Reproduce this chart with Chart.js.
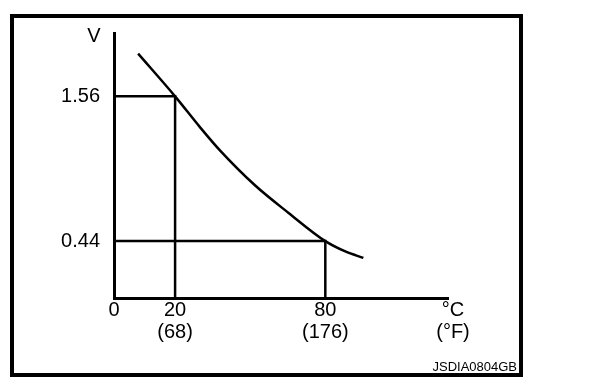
<!DOCTYPE html>
<html>
<head>
<meta charset="utf-8">
<script src="https://cdn.jsdelivr.net/npm/chart.js@4/dist/chart.umd.min.js"></script>
<style>
  html, body { margin: 0; padding: 0; background: #fff; }
  #wrap { position: relative; width: 608px; height: 388px; }
  #frame { position: absolute; left: 10px; top: 14px; width: 513px; height: 363px;
           border: 4px solid #000; box-sizing: border-box; pointer-events: none; }
  canvas { position: absolute; left: 0; top: 0; }
</style>
</head>
<body>
<div id="wrap">
  <canvas id="c" width="608" height="388"></canvas>
  <div id="frame"></div>
</div>
<script>
// ---- data (schematic sensor curve) ----
const curveTemps = [7.9, 20, 30, 38, 52, 65.2, 80, 88, 95.2];             // °C
const curveVolts = [1.89, 1.56, 1.32, 1.14, 0.87, 0.66, 0.44, 0.36, 0.31]; // V
const refTemps = [20, 80];          // °C marked on the x axis
const refVolts = [1.56, 0.44];      // V marked on the y axis
const xTickValues = [0, 20, 80];
const xTickLabelsC = ["0", "20", "80"];
const xTickLabelsF = ["", "(68)", "(176)"];
const yTickValues = [0.44, 1.56];
const yTickLabels = ["0.44", "1.56"];
const yUnit = "V";
const xUnitC = "°C";
const xUnitF = "(°F)";
const figureCode = "JSDIA0804GB";

// Axis range (the drawing is schematic: 0..20 °C is stretched differently)
const X_BREAK = 20;
const X_INTERNAL_MIN = -4.4;
const X_MAX = 129;
const Y_MAX = 2.05;

const FONT = '"Liberation Sans", Arial, Helvetica, sans-serif';

// Schematic x scale: piecewise linear, 0..20 is compressed to fit the axis origin
class SchematicScale extends Chart.LinearScale {
  _warp(v) {
    if (v >= X_BREAK) return v;
    return X_INTERNAL_MIN + v * (X_BREAK - X_INTERNAL_MIN) / X_BREAK;
  }
  _unwarp(w) {
    if (w >= X_BREAK) return w;
    return (w - X_INTERNAL_MIN) * X_BREAK / (X_BREAK - X_INTERNAL_MIN);
  }
  getPixelForValue(v, i) {
    if (v === null || v === undefined) return NaN;
    return super.getPixelForValue(this._warp(v), i);
  }
  getValueForPixel(p) {
    return this._unwarp(super.getValueForPixel(p));
  }
}
SchematicScale.id = 'schematic';
SchematicScale.defaults = Chart.LinearScale.defaults;
Chart.register(SchematicScale);

const curveData = curveTemps.map((t, i) => ({ x: t, y: curveVolts[i] }));
const refDatasets = refTemps.map((t, i) => ({
  data: [{ x: 0, y: refVolts[i] }, { x: t, y: refVolts[i] }, { x: t, y: 0 }],
  borderColor: '#000', borderWidth: 2.5, pointRadius: 0, tension: 0, fill: false
}));

const textPlugin = {
  id: 'texts',
  afterDraw(chart) {
    const ctx = chart.ctx, a = chart.chartArea;
    ctx.save();
    ctx.fillStyle = '#000';
    ctx.font = '20px ' + FONT;
    ctx.textAlign = 'center';
    ctx.textBaseline = 'middle';
    ctx.fillText(yUnit, a.left - 20, a.top + 3);
    ctx.fillText(xUnitC, a.right + 5, a.bottom + 12);
    ctx.fillText(xUnitF, a.right + 5, a.bottom + 34);
    ctx.font = '13px ' + FONT;
    ctx.textAlign = 'right';
    ctx.fillText(figureCode, 517, 367);
    ctx.restore();
  }
};

new Chart(document.getElementById('c'), {
  type: 'line',
  data: {
    datasets: [
      { data: curveData, borderColor: '#000', borderWidth: 2.5, pointRadius: 0,
        cubicInterpolationMode: 'monotone', fill: false },
      ...refDatasets
    ]
  },
  options: {
    responsive: false,
    devicePixelRatio: 1,
    animation: false,
    events: [],
    layout: { padding: { left: 0, top: 33, right: 160, bottom: 0 } },
    plugins: { legend: { display: false }, tooltip: { enabled: false }, title: { display: false } },
    scales: {
      x: {
        type: 'schematic',
        min: X_INTERNAL_MIN,
        max: X_MAX,
        grid: { display: false, drawTicks: false },
        border: { display: true, color: '#000', width: 3 },
        afterBuildTicks(s) { s.ticks = xTickValues.map(v => ({ value: v })); },
        afterFit(s) { s.height = 90; },
        ticks: {
          color: '#000', padding: 1, maxRotation: 0, autoSkip: false,
          font: { family: FONT, size: 20, lineHeight: 1.1 },
          callback(v) {
            const i = xTickValues.indexOf(v);
            if (i < 0) return '';
            return xTickLabelsF[i] ? [xTickLabelsC[i], xTickLabelsF[i]] : xTickLabelsC[i];
          }
        }
      },
      y: {
        type: 'linear',
        min: 0, max: Y_MAX,
        grid: { display: false, drawTicks: false },
        border: { display: true, color: '#000', width: 3 },
        afterBuildTicks(s) { s.ticks = yTickValues.map(v => ({ value: v })); },
        afterFit(s) { s.width = 114; },
        ticks: {
          color: '#000', padding: 14,
          font: { family: FONT, size: 20 },
          callback(v) {
            const i = yTickValues.indexOf(v);
            return i < 0 ? '' : yTickLabels[i];
          }
        }
      }
    }
  },
  plugins: [textPlugin]
});
</script>
</body>
</html>
